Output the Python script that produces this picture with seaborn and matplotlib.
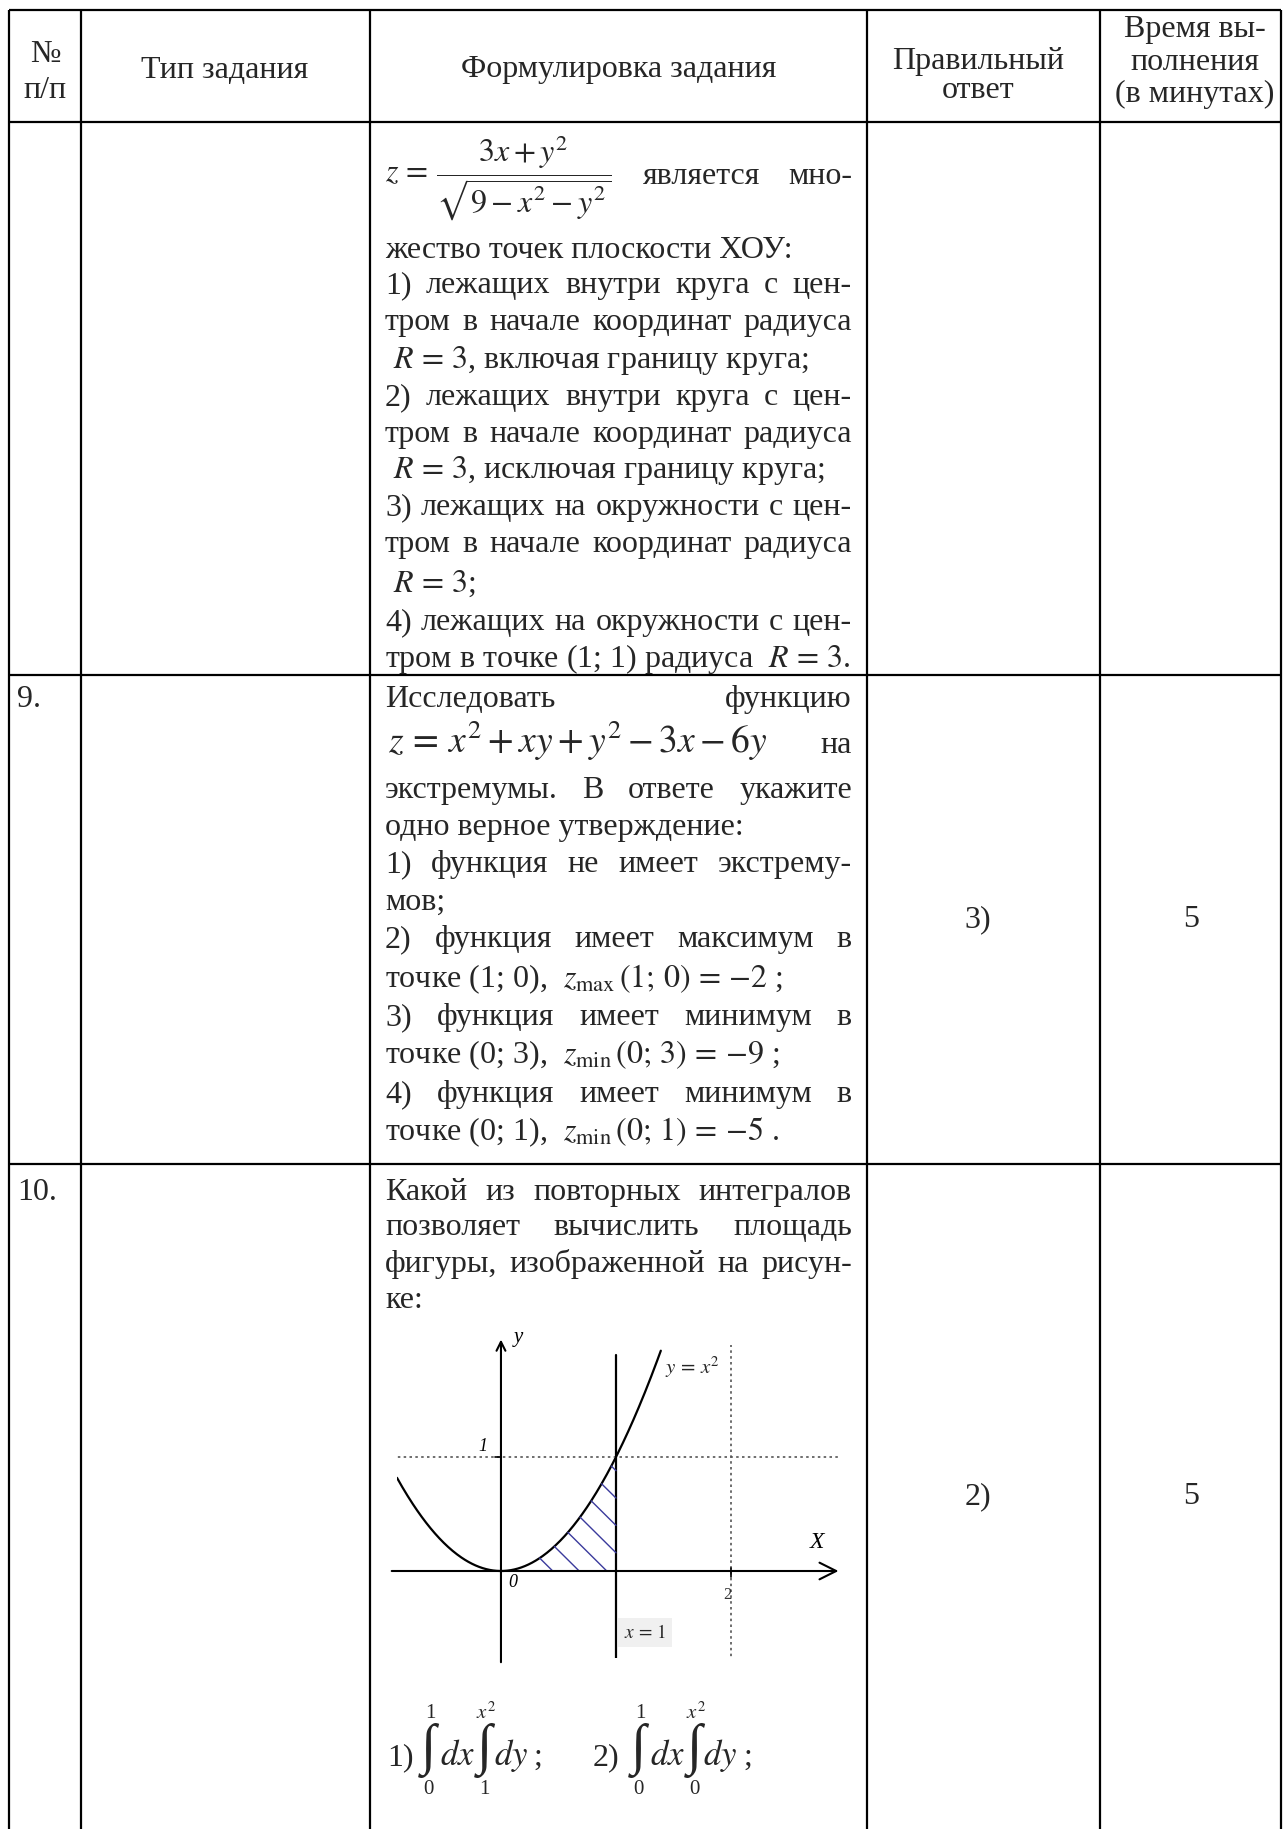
import re
import numpy as np
import matplotlib
matplotlib.use("Agg")
import matplotlib.pyplot as plt
import seaborn as sns

# ---------------- data ----------------
HEADERS = [["№", "п/п"], ["Тип задания"], ["Формулировка задания"],
           ["Правильный", "ответ"], ["Время вы-", "полнения", "(в минутах)"]]
ROW_NUMBERS = ["", "9.", "10."]
ANSWERS = ["", "3)", "2)"]
TIMES = ["", "5", "5"]

FORMULA_8 = r"$z\,=\,\dfrac{3x+y^2}{\sqrt{9-x^2-y^2}}$"
FORMULA_8_TAIL = ["является", "мно-"]
ROW8_LINES = [
    ("L", "жество точек плоскости ХОУ:"),
    ("J", "1) лежащих внутри круга с цен-"),
    ("J", "тром в начале координат радиуса"),
    ("L", r" $R\,=\,3$, включая границу круга;"),
    ("J", "2) лежащих внутри круга с цен-"),
    ("J", "тром в начале координат радиуса"),
    ("L", r" $R\,=\,3$, исключая границу круга;"),
    ("J", "3) лежащих на окружности с цен-"),
    ("J", "тром в начале координат радиуса"),
    ("L", r" $R\,=\,3$;"),
    ("J", "4) лежащих на окружности с цен-"),
    ("L", r"тром в точке (1; 1) радиуса  $R\,=\,3$."),
]
FORMULA_9 = r"$z\,=\,x^2+xy+y^2-3x-6y$"
ROW9_LINES = [
    ("J", "Исследовать функцию"),
    ("F", "на"),
    ("J", "экстремумы. В ответе укажите"),
    ("L", "одно верное утверждение:"),
    ("J", "1) функция не имеет экстрему-"),
    ("L", "мов;"),
    ("J", "2) функция имеет максимум в"),
    ("L", r"точке (1; 0),  $z_{\mathrm{max}}\,(1;\,0)\,=\,{-2}$ ;"),
    ("J", "3) функция имеет минимум в"),
    ("L", r"точке (0; 3),  $z_{\mathrm{min}}\,(0;\,3)\,=\,{-9}$ ;"),
    ("J", "4) функция имеет минимум в"),
    ("L", r"точке (0; 1),  $z_{\mathrm{min}}\,(0;\,1)\,=\,{-5}$ ."),
]
ROW10_LINES = [
    ("J", "Какой из повторных интегралов"),
    ("J", "позволяет вычислить площадь"),
    ("J", "фигуры, изображенной на рисун-"),
    ("L", "ке:"),
]
INTEGRAL_LABELS = ["1)", "2)"]
INTEGRAL_LIMITS = [[("1", "0"), (r"$x^2$", "1")], [("1", "0"), (r"$x^2$", "0")]]
INTEGRAL_DIFFS = [r"$dx$", r"$dy$"]

# small figure: y = x^2 with x = 1, hatched area under curve on [0, 1]
GRID_X = [2]
GRID_Y = [1]
VLINE_X = 1
HATCH_OFFSETS = [0.45, 0.68, 0.92, 1.16, 1.40, 1.64, 1.88]   # lines x + y = c
CURVE_X_RANGE = (-0.904, 1.39)

# ---------------- layout ----------------
W, H = 1283, 1829
COLS = [9, 81, 370, 867, 1100, 1281]
ROWS = [10, 122, 675, 1164]
TX0, TX1 = 385, 852
FS = 23

sns.set_style("white")
plt.rcParams["font.family"] = ["Liberation Serif", "DejaVu Serif"]
plt.rcParams["mathtext.fontset"] = "stix"

fig = plt.figure(figsize=(W / 100, H / 100), dpi=100)
ax = fig.add_axes([0, 0, 1, 1])
ax.set_xlim(0, W)
ax.set_ylim(H, 0)
ax.axis("off")
renderer = fig.canvas.get_renderer()

LW = 1.6
for y in ROWS:
    ax.plot([COLS[0], COLS[-1]], [y, y], color="black", lw=LW, solid_capstyle="butt")
for x in COLS:
    ax.plot([x, x], [ROWS[0], H], color="black", lw=LW, solid_capstyle="butt")

# header
header_pos = [(45, [55, 90]), (225, [70]), (619, [70]), (978, [62, 90]),
              (1195, [30, 63, 94])]
for (cx, ys), lines in zip(header_pos, HEADERS):
    for yy, t in zip(ys, lines):
        ax.text(cx, yy, t, fontsize=FS, ha="center", va="center")


def tokenize(s):
    return re.findall(r"\$[^$]*\$\S*|\S+", s)


def justified(line, y, x0=TX0, x1=TX1, size=FS):
    toks = tokenize(line)
    texts = [ax.text(0, y, t, fontsize=size, va="baseline", ha="left") for t in toks]
    widths = [t.get_window_extent(renderer).width for t in texts]
    gap = (x1 - x0 - sum(widths)) / max(len(toks) - 1, 1)
    x = x0
    for t, w in zip(texts, widths):
        t.set_x(x)
        x += w + gap


def left(line, y, x0=TX0, size=FS):
    ax.text(x0, y, line, fontsize=size, va="baseline", ha="left")


def draw_lines(lines, baselines):
    for (kind, s), y in zip(lines, baselines):
        if kind == "J":
            justified(s, y)
        elif kind == "L":
            left(s, y)
        else:
            ax.text(TX1, y, s, fontsize=FS, va="baseline", ha="right")


# row 8 (continued)
ax.text(TX0, 178, FORMULA_8, fontsize=FS, va="center", ha="left")
ax.text(643, 184, FORMULA_8_TAIL[0], fontsize=FS, va="baseline", ha="left")
ax.text(TX1, 184, FORMULA_8_TAIL[1], fontsize=FS, va="baseline", ha="right")
draw_lines(ROW8_LINES, [258, 293, 330, 368, 405, 442, 478, 515, 552, 592, 630, 667])

# row 9
ax.text(388, 753, FORMULA_9, fontsize=27, va="baseline", ha="left")
draw_lines(ROW9_LINES, [707, 753, 798, 835, 872, 910, 947, 987, 1025, 1063, 1102, 1140])

# row 10
draw_lines(ROW10_LINES, [1200, 1235, 1272, 1308])

# numbers / answers / times
row_tops = [None, 707, 1200]
row_mid = [None, (ROWS[2] + ROWS[3]) / 2, (ROWS[3] + H) / 2]
for i in (1, 2):
    ax.text(17, row_tops[i], ROW_NUMBERS[i], fontsize=FS, va="baseline", ha="left")
    ax.text(978, row_mid[i], ANSWERS[i], fontsize=FS, va="center", ha="center")
    ax.text(1191, row_mid[i], TIMES[i], fontsize=FS, va="center", ha="center")

# integrals
ib = 1765
groups = [(387, [428, 484], [440, 494], 533), (593, [638, 694], [650, 703], 743)]
for (lx, ints, dxs, semi), lab, lims in zip(groups, INTEGRAL_LABELS, INTEGRAL_LIMITS):
    ax.text(lx, ib, lab, fontsize=FS, va="baseline", ha="left")
    for ix, dx, (up, lo), d in zip(ints, dxs, lims, INTEGRAL_DIFFS):
        ax.text(ix, 1751, "\u222b", fontsize=40, va="center", ha="center",
                family=["Liberation Serif", "DejaVu Serif"])
        ax.text(ix + 2, 1713, up, fontsize=15, va="center", ha="center")
        ax.text(ix, 1789, lo, fontsize=15, va="center", ha="center")
        ax.text(dx, ib, d, fontsize=FS + 2, va="baseline", ha="left")
    ax.text(semi, ib, ";", fontsize=FS, va="baseline", ha="left")

# ---------------- small plot ----------------
px0, px1, py0, py1 = 397, 840, 1323, 1658
ins = fig.add_axes([px0 / W, 1 - py1 / H, (px1 - px0) / W, (py1 - py0) / H])
ins.set_xlim(-0.904, 2.948)
ins.set_ylim(-0.763, 2.175)
ins.axis("off")

xs = np.linspace(CURVE_X_RANGE[0], CURVE_X_RANGE[1], 300)
sns.lineplot(x=xs, y=xs ** 2, ax=ins, color="black", lw=1.6, sort=False)

for gx in GRID_X:
    ins.plot([gx, gx], [-0.8, 1.98], color="#555555", lw=1.2, ls=(0, (1.5, 2)))
for gy in GRID_Y:
    ins.plot([-0.95, 3.0], [gy, gy], color="#555555", lw=1.2, ls=(0, (1.5, 2)))
ins.plot([VLINE_X, VLINE_X], [-0.8, 1.89], color="black", lw=1.6)

for c in HATCH_OFFSETS:
    xa = (-1 + np.sqrt(1 + 4 * c)) / 2
    xb = min(c, 1.0)
    ins.plot([xa, xb], [xa ** 2, c - xb], color="#3a3a9c", lw=1.0)

ins.annotate("", xy=(2.935, 0), xytext=(-0.95, 0),
             arrowprops=dict(arrowstyle="->", lw=1.5, color="black",
                             mutation_scale=30, shrinkA=0, shrinkB=0))
ins.annotate("", xy=(0, 2.03), xytext=(0, -0.8),
             arrowprops=dict(arrowstyle="->", lw=1.5, color="black",
                             mutation_scale=16, shrinkA=0, shrinkB=0))
ins.plot([-0.05, 0], [1, 1], color="black", lw=1.2)
ins.plot([2, 2], [-0.05, 0.03], color="black", lw=1.2)

it = dict(style="italic", color="black")
ins.text(-0.16, 1.09, "1", fontsize=13, ha="center", va="center", **it)
ins.text(0.1, -0.1, "0", fontsize=13, ha="center", va="center", **it)
ins.text(1.97, -0.21, "2", fontsize=12, ha="center", va="center", color="#333333")
ins.text(2.75, 0.25, "X", fontsize=17, ha="center", va="center", **it)
ins.text(0.15, 2.05, "y", fontsize=15, ha="center", va="center", **it)
ins.text(1.43, 1.79, r"$y\,=\,x^2$", fontsize=15, ha="left", va="center")
ins.text(1.07, -0.54, r"$x\,=\,1$", fontsize=14, ha="left", va="center",
         bbox=dict(boxstyle="square,pad=0.3", fc="#f0f0f0", ec="none"))

fig.savefig("out.png", dpi=100)
